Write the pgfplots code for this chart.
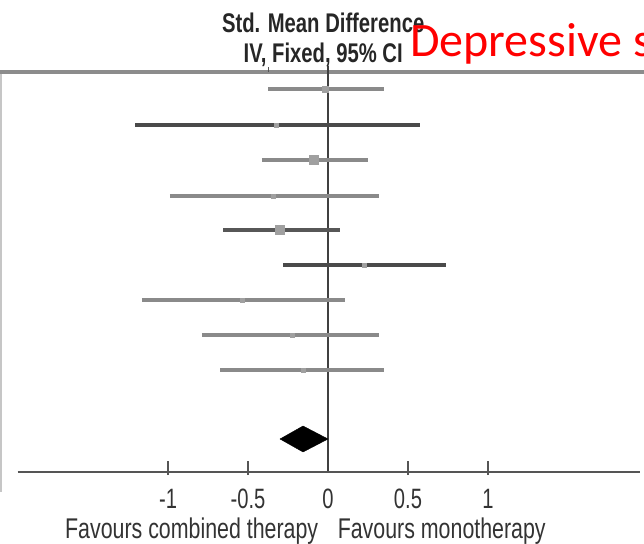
\documentclass[border=0pt]{standalone}
\usepackage{fontspec}
\setmainfont{Liberation Sans}
\newfontfamily\narrow[FakeStretch=0.72]{Liberation Sans}
\newfontfamily\hnarrow[FakeStretch=0.75]{Liberation Sans}
\newfontfamily\cali{Carlito}
\usepackage{pgfplots}
\pgfplotsset{compat=1.18}
\definecolor{cigray}{HTML}{8A8A8A}
\definecolor{cidark}{HTML}{4A4A4A}
\definecolor{ptgray}{HTML}{A0A0A0}
\definecolor{axgray}{HTML}{555555}
\tikzset{
  ticklab/.style={anchor=base, inner sep=0pt, text height=21bp, text depth=0pt,
    font=\narrow\fontsize{28bp}{30bp}\selectfont, color=black!80},
  favlab/.style={inner sep=0pt, text height=20bp, text depth=0pt,
    font=\hnarrow\fontsize{28.5bp}{30bp}\selectfont, color=black!80}}
\begin{document}
\begin{tikzpicture}
\useasboundingbox (0,0) rectangle (644bp,544bp);
\clip (0,0) rectangle (644bp,544bp);
\begin{axis}[at={(0,0)}, anchor=south west, scale only axis,
  width=644bp, height=544bp, xmin=-2.05, xmax=1.975, ymin=0, ymax=544,
  hide axis, clip=false]
% top rule and left border
\addplot[color=gray!90, line width=4bp] coordinates {(-2.05,472) (1.975,472)};
\addplot[color=gray!45, line width=1.5bp] coordinates {(-2.045,470) (-2.045,52)};
\addplot[color=axgray, line width=1bp] coordinates {(-0.375,472) (-0.375,477)};
% zero line
\addplot[color=black!75, line width=1.6bp] coordinates {(0,478) (0,72)};
% x axis
\addplot[color=axgray, line width=2bp] coordinates {(-1.94,72) (1.95,72)};
\foreach \t in {-1,-0.5,0.5,1} {
  \edef\tmp{\noexpand\addplot[color=axgray, line width=2bp] coordinates {(\t,69) (\t,83)};}\tmp
}
% confidence intervals
\addplot[color=cigray, line width=3.2bp] coordinates {(-0.375,455) (0.35,455)};
\addplot[color=cidark, line width=3.4bp] coordinates {(-1.206,419) (0.575,419)};
\addplot[color=cigray, line width=3.2bp] coordinates {(-0.413,384) (0.25,384)};
\addplot[color=cigray, line width=3.2bp] coordinates {(-0.988,348) (0.319,348)};
\addplot[color=cidark!80!cigray, line width=3.2bp] coordinates {(-0.656,314) (0.075,314)};
\addplot[color=cidark, line width=3.4bp] coordinates {(-0.281,279) (0.738,279)};
\addplot[color=cigray, line width=3.2bp] coordinates {(-1.163,244) (0.106,244)};
\addplot[color=cigray, line width=3.2bp] coordinates {(-0.788,209) (0.319,209)};
\addplot[color=cigray, line width=3.2bp] coordinates {(-0.675,174) (0.35,174)};
% point estimates
\addplot[only marks, mark=square*, mark size=3bp, color=ptgray] coordinates {(-0.02,455)};
\addplot[only marks, mark=square*, mark size=2bp, color=ptgray] coordinates {(-0.325,419) (-0.344,348) (0.225,279) (-0.538,244) (-0.225,209) (-0.156,174)};
\addplot[only marks, mark=square*, mark size=4.5bp, color=ptgray] coordinates {(-0.088,384) (-0.30,314)};
% pooled diamond
\addplot[fill=black, draw=black] coordinates {(-0.30,105) (-0.156,118) (0.0,105) (-0.156,92)} -- cycle;
% tick labels
\node[ticklab] at (axis cs:-1,35) {-1};
\node[ticklab] at (axis cs:-0.5,35) {-0.5};
\node[ticklab] at (axis cs:0,35) {0};
\node[ticklab] at (axis cs:0.5,35) {0.5};
\node[ticklab] at (axis cs:1,35) {1};
% direction labels
\node[favlab, anchor=base east] at (axis cs:-0.06,6) {Favours combined therapy};
\node[favlab, anchor=base west] at (axis cs:0.06,6) {Favours monotherapy};
% header
\node[font=\hnarrow\bfseries\fontsize{27bp}{29bp}\selectfont, color=black!85] at (axis cs:-0.03,521) {Std. Mean Difference};
\node[font=\hnarrow\bfseries\fontsize{27bp}{29bp}\selectfont, color=black!85] at (axis cs:-0.03,489) {IV, Fixed, 95\% CI};
\node[anchor=base west, inner sep=0pt, text=red, font=\cali\fontsize{48bp}{54bp}\selectfont] at (axis cs:0.5125,487) {Depressive s};
\end{axis}
\end{tikzpicture}
\end{document}
